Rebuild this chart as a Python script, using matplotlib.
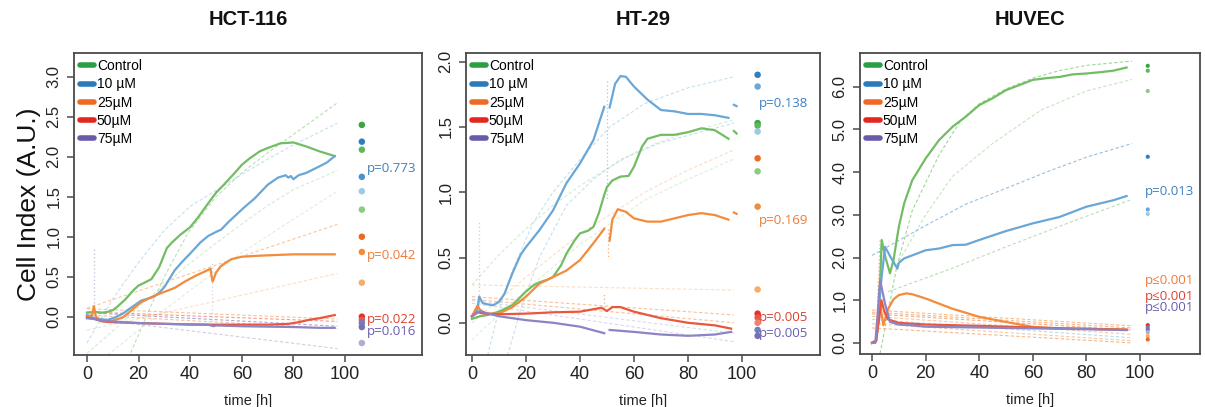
import numpy as np
import matplotlib
matplotlib.use("Agg")
import matplotlib.pyplot as plt
from matplotlib.lines import Line2D

plt.rcParams['font.family'] = ['Liberation Sans', 'DejaVu Sans']

# ---------------- labels ----------------
titles = ["HCT-116", "HT-29", "HUVEC"]
legend_labels = ["Control", "10 µM", "25µM", "50µM", "75µM"]
legend_colors = ["#2e9e45", "#2b7bba", "#ee6a24", "#e3261f", "#6a5aa8"]
line_colors = ["#72bd64", "#6aa7d6", "#f28c3c", "#e9573c", "#8c84c4"]

# ---------------- HCT-116 measured curves ----------------
hct_ctrl_t = [0, 3, 6, 8, 10, 12, 15, 18, 20, 22, 25, 28, 31, 33, 36, 38, 40, 43, 45, 47, 50, 53, 57, 60, 63, 67, 70, 75, 80, 85, 90, 96]
hct_ctrl_v = [0.05, 0.06, 0.05, 0.06, 0.08, 0.13, 0.22, 0.33, 0.39, 0.42, 0.47, 0.62, 0.86, 0.93, 1.02, 1.07, 1.12, 1.24, 1.33, 1.42, 1.55, 1.65, 1.79, 1.90, 1.98, 2.07, 2.11, 2.17, 2.18, 2.13, 2.07, 2.01]
hct_10_t = [0, 3, 5, 8, 11, 14, 17, 21, 24, 26, 28, 30, 34, 37, 40, 44, 47, 50, 52, 55, 57, 61, 65, 70, 74, 77, 78, 79, 80, 82, 85, 90, 93, 96]
hct_10_v = [0.02, -0.02, -0.03, -0.04, -0.01, 0.04, 0.11, 0.20, 0.23, 0.25, 0.30, 0.37, 0.58, 0.69, 0.79, 0.93, 1.01, 1.06, 1.09, 1.19, 1.25, 1.37, 1.48, 1.65, 1.74, 1.77, 1.74, 1.76, 1.72, 1.77, 1.80, 1.88, 1.93, 2.01]
hct_25_t = [0, 2, 2.7, 3.5, 5, 9, 14, 18, 21, 26, 30, 34, 38, 42, 46, 47.9, 48.3, 48.7, 49.3, 50, 51.8, 54, 56, 60, 65, 72, 80, 90, 96]
hct_25_v = [0.0, 0.02, 0.13, 0.0, -0.04, -0.06, -0.01, 0.10, 0.18, 0.26, 0.31, 0.36, 0.44, 0.51, 0.57, 0.60, 0.50, 0.44, 0.49, 0.55, 0.63, 0.68, 0.72, 0.75, 0.76, 0.77, 0.78, 0.78, 0.78]
hct_50_t = [0, 3, 6, 10, 20, 30, 40, 50, 60, 70, 78, 82, 86, 90, 96]
hct_50_v = [-0.01, -0.03, -0.06, -0.07, -0.08, -0.09, -0.10, -0.10, -0.10, -0.10, -0.09, -0.07, -0.04, -0.02, 0.02]
hct_75_t = [0, 3, 6, 10, 20, 30, 40, 47, 49, 50, 60, 70, 80, 90, 96]
hct_75_v = [-0.02, -0.03, -0.05, -0.06, -0.08, -0.09, -0.095, -0.10, -0.12, -0.11, -0.12, -0.125, -0.13, -0.14, -0.14]

# HCT-116 fitted (dashed) curves
hct_fit_t_a = [17, 25, 30, 39, 50, 60, 70, 80, 97]
hct_fit_ctrl_a = [-0.45, 0.15, 0.50, 1.04, 1.50, 1.80, 2.05, 2.28, 2.675]
hct_fit_t_b = [0, 10, 20, 30, 40, 50, 60, 70, 80, 97]
hct_fit_10_a = [-0.33, 0.22, 0.68, 1.08, 1.38, 1.58, 1.78, 1.97, 2.15, 2.42]
hct_fit_ctrl_b = [-0.46, -0.18, 0.12, 0.40, 0.67, 0.92, 1.16, 1.39, 1.59, 1.83]
hct_fit_t_c = [8, 20, 40, 60, 80, 97]
hct_fit_ctrl_c = [-0.48, -0.17, 0.33, 0.80, 1.22, 1.57]
hct_fit_t_lin = [0, 97]
hct_fit_25_a = [0.105, 1.155]
hct_fit_25_b = [-0.17, 0.54]
hct_fit_25_c = [0.10, -0.03]
hct_fit_25_d = [0.02, -0.15]
hct_fit_50_a = [0.06, -0.06]
hct_fit_75_a = [0.05, -0.12]
hct_fit_75_b = [-0.02, -0.40]

hct_dot_v = [2.40, 2.19, 2.09, 1.75, 1.57, 1.34, 1.00, 0.81, 0.425, 0.0, -0.04, -0.08, -0.13, -0.33]
hct_dot_c = ['#3aa53f', '#2f7fc0', '#5cb85a', '#4a92cc', '#9ccbe4', '#8ccb80', '#ec6a22', '#f08c3a', '#f4ae6a', '#e6302a', '#e3594c', '#6f7fbf', '#7a6fb5', '#b3acd4']
hct_p_text = ["p=0.773", "p=0.042", "p=0.022", "p=0.016"]
hct_p_y = [1.86, 0.77, -0.03, -0.19]

# ---------------- HT-29 measured curves ----------------
ht_ctrl_t = [0, 3, 6, 10, 15, 20, 23, 25, 28, 30, 33, 35, 38, 40, 43, 45, 47, 49, 50, 52, 55, 58, 60, 63, 65, 70, 75, 80, 85, 90, 95]
ht_ctrl_v = [0.03, 0.05, 0.06, 0.085, 0.135, 0.24, 0.29, 0.31, 0.33, 0.35, 0.44, 0.53, 0.63, 0.685, 0.705, 0.735, 0.84, 0.98, 1.04, 1.09, 1.12, 1.125, 1.195, 1.35, 1.41, 1.44, 1.44, 1.46, 1.49, 1.475, 1.41]
ht_10_t = [0, 2, 2.7, 4, 6, 8, 10, 12, 15, 18, 20, 25, 30, 35, 40, 45, 49, np.nan, 51, 53, 55, 57, 60, 65, 70, 75, 80, 85, 90, 95]
ht_10_v = [0.05, 0.10, 0.20, 0.15, 0.14, 0.135, 0.16, 0.22, 0.38, 0.52, 0.58, 0.71, 0.86, 1.07, 1.22, 1.40, 1.655, np.nan, 1.65, 1.83, 1.89, 1.885, 1.81, 1.71, 1.63, 1.62, 1.60, 1.60, 1.59, 1.57]
ht_25_t = [0, 2, 3, 5, 10, 15, 20, 25, 30, 35, 40, 45, 49, np.nan, 51, 52, 54, 57, 60, 65, 70, 75, 80, 85, 90, 95]
ht_25_v = [0.05, 0.13, 0.10, 0.07, 0.07, 0.12, 0.20, 0.30, 0.35, 0.40, 0.48, 0.61, 0.72, np.nan, 0.63, 0.79, 0.87, 0.85, 0.80, 0.775, 0.775, 0.80, 0.825, 0.84, 0.825, 0.79]
ht_50_t = [0, 2, 5, 10, 20, 30, 40, 48, 50, 52, 55, 60, 70, 80, 90, 96]
ht_50_v = [0.05, 0.08, 0.07, 0.065, 0.07, 0.08, 0.085, 0.115, 0.09, 0.12, 0.12, 0.085, 0.035, 0.0, -0.02, -0.045]
ht_75_t = [0, 3, 6, 10, 20, 30, 40, 49, np.nan, 51, 60, 70, 80, 90, 96]
ht_75_v = [0.05, 0.09, 0.07, 0.05, 0.02, 0.0, -0.03, -0.08, np.nan, -0.055, -0.07, -0.09, -0.10, -0.09, -0.07]
# short late segments
ht_tail_t = [97, 98]
ht_tail_10 = [1.67, 1.66]
ht_tail_ctrl = [1.47, 1.45]
ht_tail_25 = [0.845, 0.835]

# HT-29 fitted curves
ht_fit_t_a = [5.8, 10, 15, 22.5, 30, 40, 51, 64, 80, 97]
ht_fit_10_a = [-0.25, 0.10, 0.40, 0.76, 1.00, 1.25, 1.50, 1.68, 1.80, 1.885]
ht_fit_t_b = [13.2, 18, 25, 35, 45, 55, 70, 97]
ht_fit_10_b = [-0.25, 0.10, 0.50, 0.90, 1.10, 1.25, 1.38, 1.53]
ht_fit_t_c = [0, 10, 20, 30, 40, 50, 60, 70, 80, 97]
ht_fit_ctrl_a = [0.29, 0.52, 0.72, 0.90, 1.05, 1.18, 1.30, 1.39, 1.46, 1.553]
ht_fit_t_d = [0, 20, 40, 64, 80, 97]
ht_fit_25_a = [0.0, 0.35, 0.68, 1.00, 1.17, 1.323]
ht_fit_ctrl_b = [-0.13, 0.25, 0.60, 0.94, 1.10, 1.254]
ht_fit_t_lin = [0, 97]
ht_fit_25_b = [0.29, 0.25]
ht_fit_25_c = [0.20, 0.06]
ht_fit_50_a = [0.18, 0.0]
ht_fit_75_a = [0.17, -0.08]
ht_fit_75_b = [0.15, -0.145]

ht_dot_v = [1.90, 1.81, 1.53, 1.51, 1.465, 1.26, 1.16, 0.89, 0.255, 0.07, 0.04, 0.0, -0.055, -0.10]
ht_dot_c = ['#2f7fc0', '#6aa8d8', '#3aa53f', '#5cb85a', '#9ccbe4', '#ec6a22', '#8ccb80', '#f08c3a', '#f4ae6a', '#e6302a', '#e3594c', '#f08070', '#6f7fbf', '#7a6fb5']
ht_p_text = ["p=0.138", "p=0.169", "p=0.005", "p=0.005"]
ht_p_y = [1.683, 0.78, 0.044, -0.079]

# ---------------- HUVEC measured curves ----------------
huv_ctrl_t = [0, 1.5, 2.5, 3.6, 5, 6.7, 8, 10, 12, 15, 20, 25, 30, 35, 40, 45, 50, 55, 60, 65, 70, 75, 80, 85, 90, 95]
huv_ctrl_v = [0.0, 0.05, 0.6, 2.41, 2.0, 1.63, 1.94, 2.72, 3.27, 3.81, 4.32, 4.75, 5.06, 5.30, 5.57, 5.73, 5.92, 6.04, 6.16, 6.20, 6.23, 6.29, 6.31, 6.34, 6.375, 6.45]
huv_10_t = [0, 1.5, 3.5, 4.85, 7, 9.45, 10, 12, 15, 20, 25, 30, 35, 40, 50, 60, 70, 80, 90, 95]
huv_10_v = [0.0, 0.05, 1.5, 2.25, 2.0, 1.74, 1.875, 1.98, 2.05, 2.17, 2.21, 2.29, 2.30, 2.41, 2.62, 2.80, 2.95, 3.19, 3.34, 3.44]
huv_25_t = [0, 1.5, 3.0, 4.2, 6, 8, 10, 12.8, 15, 20, 25, 30, 40, 50, 60, 70, 80, 95]
huv_25_v = [0.0, 0.05, 0.9, 0.415, 0.8, 1.02, 1.12, 1.16, 1.14, 1.04, 0.92, 0.80, 0.61, 0.49, 0.375, 0.336, 0.33, 0.31]
huv_50_t = [0, 1.5, 2.5, 3.5, 4.5, 6, 10, 20, 40, 60, 80, 95]
huv_50_v = [0.0, 0.05, 0.5, 1.0, 0.75, 0.55, 0.47, 0.43, 0.40, 0.36, 0.33, 0.31]
huv_75_t = [0, 1.2, 2.0, 3.0, 4.9, 6.7, 10, 14, 20, 40, 60, 80, 95]
huv_75_v = [0.0, 0.0, 0.6, 1.47, 0.9, 0.49, 0.43, 0.415, 0.38, 0.36, 0.34, 0.32, 0.30]

# HUVEC fitted curves
huv_fit_t_a = [3, 9.2, 15, 20, 25, 33, 40, 50, 60, 70, 80, 97]
huv_fit_ctrl_a = [-0.25, 1.78, 3.10, 3.75, 4.40, 5.20, 5.60, 5.95, 6.20, 6.38, 6.50, 6.60]
huv_fit_t_b = [9, 20, 30, 45, 63, 80, 97]
huv_fit_ctrl_b = [1.80, 3.00, 3.90, 4.67, 5.45, 5.90, 6.17]
huv_fit_t_c = [6, 30, 50, 75, 97]
huv_fit_ctrl_c = [1.20, 1.75, 2.25, 2.85, 3.36]
huv_fit_t_d = [0, 20, 35, 50, 65, 80, 97]
huv_fit_10_a = [2.05, 2.75, 3.25, 3.62, 4.00, 4.35, 4.67]
huv_fit_t_lin = [0, 97]
huv_fit_low = [[0.77, 0.40], [0.72, 0.35], [0.68, 0.30], [0.62, 0.20], [0.55, 0.12], [0.45, 0.05], [0.35, 0.0]]
huv_fit_low_c = ['#f5a35a', '#f29858', '#ef8a50', '#f4b07a', '#9ccbe4', '#f4b07a', '#f29858']

huv_dot_v = [6.49, 6.375, 5.90, 4.36, 3.125, 3.02, 0.415, 0.36, 0.31, 0.25, 0.16, 0.08]
huv_dot_c = ['#3aa53f', '#5cb85a', '#8ccb80', '#2f7fc0', '#6aa8d8', '#9ccbe4', '#e6302a', '#6f7fbf', '#7a6fb5', '#b3acd4', '#f4ae6a', '#ec6a22']
huv_p_text = ["p=0.013", "p≤0.001", "p≤0.001", "p≤0.001"]
huv_p_y = [3.54, 1.45, 1.09, 0.82]

p_colors = ['#3f7fc0', '#ee7a35', '#e04030', '#6a5cae']

# ---------------- figure ----------------
W, H = 1205, 407
fig = plt.figure(figsize=(W / 100, H / 100), dpi=100)

def box(l, r, t, b):
    return [l / W, 1 - b / H, (r - l) / W, (b - t) / H]

ax1 = fig.add_axes(box(74, 422, 53, 355))
ax2 = fig.add_axes(box(466, 820, 53, 355))
ax3 = fig.add_axes(box(860, 1200, 53, 354))
axes = [ax1, ax2, ax3]

ax1.set_xlim(-5.0, 129.8); ax1.set_ylim(-0.48, 3.30)
ax2.set_xlim(-2.2, 128.9); ax2.set_ylim(-0.247, 2.067)
ax3.set_xlim(-4.5, 122.4); ax3.set_ylim(-0.26, 6.79)

dash = (0, (3, 2))
dot = (0, (1, 2))
PFONT = ['Open Sans', 'DejaVu Sans']
PSIZE = 9.5

def fit(ax, t, v, c, a=0.6):
    ax.plot(t, v, ls=dash, lw=0.8, color=c, alpha=a)

def raw(ax, t, v, c, a=0.8):
    ax.plot(t, v, ls=dot, lw=0.9, color=c, alpha=a)

# --- HCT-116 ---
fit(ax1, hct_fit_t_a, hct_fit_ctrl_a, '#8ccb80')
fit(ax1, hct_fit_t_b, hct_fit_10_a, '#9ccbe4')
fit(ax1, hct_fit_t_b, hct_fit_ctrl_b, '#b8dfb0')
fit(ax1, hct_fit_t_c, hct_fit_ctrl_c, '#c8e6c0')
fit(ax1, hct_fit_t_lin, hct_fit_25_a, '#f5a35a')
fit(ax1, hct_fit_t_lin, hct_fit_25_b, '#f8c99a')
fit(ax1, hct_fit_t_lin, hct_fit_25_c, '#f29858')
fit(ax1, hct_fit_t_lin, hct_fit_25_d, '#f29858')
fit(ax1, hct_fit_t_lin, hct_fit_50_a, '#e9573c')
fit(ax1, hct_fit_t_lin, hct_fit_75_a, '#7a6fb5')
fit(ax1, hct_fit_t_lin, hct_fit_75_b, '#b3acd4')
raw(ax1, [2.6, 2.6], [-0.02, 0.85], '#b3acd4')
raw(ax1, [48.5, 48.5], [-0.05, 0.69], '#c8c8d8')
for t, v, c in zip([hct_ctrl_t, hct_10_t, hct_25_t, hct_50_t, hct_75_t],
                   [hct_ctrl_v, hct_10_v, hct_25_v, hct_50_v, hct_75_v], line_colors):
    ax1.plot(t, v, color=c, lw=1.6)
ax1.scatter([106.5] * len(hct_dot_v), hct_dot_v, s=22, c=hct_dot_c, zorder=5, lw=0)
for s, y, c in zip(hct_p_text, hct_p_y, p_colors):
    ax1.text(108.4, y, s, color=c, fontsize=PSIZE, va='center', ha='left', family=PFONT)

# --- HT-29 ---
fit(ax2, ht_fit_t_a, ht_fit_10_a, '#9ccbe4')
fit(ax2, ht_fit_t_b, ht_fit_10_b, '#9ccbe4')
fit(ax2, ht_fit_t_c, ht_fit_ctrl_a, '#b8dfb0')
fit(ax2, ht_fit_t_d, ht_fit_25_a, '#f8c99a')
fit(ax2, ht_fit_t_d, ht_fit_ctrl_b, '#c8e6c0')
fit(ax2, ht_fit_t_lin, ht_fit_25_b, '#f8c99a')
fit(ax2, ht_fit_t_lin, ht_fit_25_c, '#f29858')
fit(ax2, ht_fit_t_lin, ht_fit_50_a, '#f29858')
fit(ax2, ht_fit_t_lin, ht_fit_75_a, '#b8c8e0')
fit(ax2, ht_fit_t_lin, ht_fit_75_b, '#c0bce0')
raw(ax2, [2.5, 2.5], [0.1, 0.78], '#c0bce0')
raw(ax2, [50.0, 50.0], [1.85, 0.95], '#8cbde0')
raw(ax2, [50.5, 50.5], [0.72, 0.50], '#f29858')
raw(ax2, [49.0, 49.0], [0.12, 0.22], '#f29858')
for t, v, c in zip([ht_ctrl_t, ht_10_t, ht_25_t, ht_50_t, ht_75_t],
                   [ht_ctrl_v, ht_10_v, ht_25_v, ht_50_v, ht_75_v], line_colors):
    ax2.plot(t, v, color=c, lw=1.6)
ax2.plot(ht_tail_t, ht_tail_10, color=line_colors[1], lw=1.6)
ax2.plot(ht_tail_t, ht_tail_ctrl, color=line_colors[0], lw=1.6)
ax2.plot(ht_tail_t, ht_tail_25, color=line_colors[2], lw=1.6)
for s, y, c in zip(ht_p_text, ht_p_y, p_colors):
    ax2.text(106.3, y, s, color=c, fontsize=PSIZE, va='center', ha='left', family=PFONT)
ax2.scatter([105.8] * len(ht_dot_v), ht_dot_v, s=22, c=ht_dot_c, zorder=5, lw=0)

# --- HUVEC ---
fit(ax3, huv_fit_t_a, huv_fit_ctrl_a, '#7cc46e', 0.7)
fit(ax3, huv_fit_t_b, huv_fit_ctrl_b, '#b8dfb0', 0.8)
fit(ax3, huv_fit_t_c, huv_fit_ctrl_c, '#a8d8a0', 0.8)
fit(ax3, huv_fit_t_d, huv_fit_10_a, '#6aa7d6', 0.7)
for pair, c in zip(huv_fit_low, huv_fit_low_c):
    fit(ax3, huv_fit_t_lin, pair, c, 0.7)
raw(ax3, [1.5, 3.0], [0.0, 2.4], '#f29858')
raw(ax3, [2.0, 3.5], [0.3, 2.3], '#8ccb80')
raw(ax3, [1.5, 2.5], [0.0, 1.5], '#f4ae6a')
for t, v, c in zip([huv_ctrl_t, huv_10_t, huv_25_t, huv_50_t, huv_75_t],
                   [huv_ctrl_v, huv_10_v, huv_25_v, huv_50_v, huv_75_v], line_colors):
    ax3.plot(t, v, color=c, lw=1.6)
ax3.scatter([102.9] * len(huv_dot_v), huv_dot_v, s=9, c=huv_dot_c, zorder=5, lw=0)
for s, y, c in zip(huv_p_text, huv_p_y, p_colors):
    ax3.text(101.8, y, s, color=c, fontsize=PSIZE, va='center', ha='left', family=PFONT)

# --- common styling ---
yticks = [np.arange(0, 3.01, 0.5), np.arange(0, 2.01, 0.5), np.arange(0, 6.01, 1.0)]
handles = [Line2D([], [], color=c, lw=4, solid_capstyle='round') for c in legend_colors]
for ax, yt, title in zip(axes, yticks, titles):
    for sp in ax.spines.values():
        sp.set_color('#4a4a4a')
        sp.set_linewidth(1.3)
    ax.set_xticks([0, 20, 40, 60, 80, 100])
    ax.set_yticks(yt)
    ax.set_yticklabels([f"{v:.1f}" for v in yt], rotation=90, va='center')
    ax.tick_params(axis='both', direction='out', length=5, width=1.1, color='#4a4a4a',
                   labelcolor='#222222')
    ax.tick_params(axis='x', labelsize=13, pad=3)
    ax.tick_params(axis='y', labelsize=12, pad=4)
    ax.set_xlabel("time [h]", fontsize=10.5, labelpad=8, color='#222222')
    ax.set_title(title, fontsize=14.5, fontweight='bold', pad=20, color='#111111')
    ax.legend(handles, legend_labels, loc='upper left', frameon=False, fontsize=10,
              handlelength=1.0, handletextpad=0.2, labelspacing=0.3,
              borderaxespad=0.25, borderpad=0.2)

ax1.set_ylabel("Cell Index (A.U.)", fontsize=19, labelpad=4, color='#111111')

fig.savefig("out.png", dpi=100)
